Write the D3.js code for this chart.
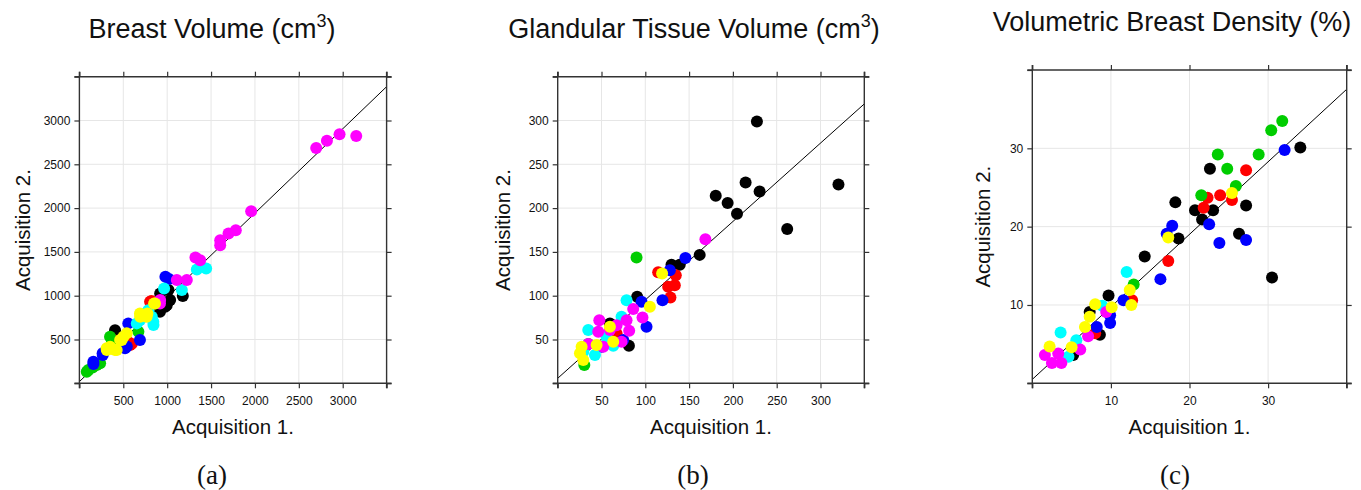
<!DOCTYPE html>
<html>
<head>
<meta charset="utf-8">
<script src="https://cdn.jsdelivr.net/npm/d3@7"></script>
<style>
  body { margin: 0; background: #fff; }
  svg { display: block; font-family: "Liberation Sans", Arial, Helvetica, sans-serif; }
</style>
</head>
<body>
<div id="chart"></div>
<script>
// groups 1..7 use the R base palette
const groupColors = ["#000000", "#FF0000", "#00CD00", "#0000FF", "#00FFFF", "#FF00FF", "#FFFF00"];

// (a) breast volume, [group, acquisition 1, acquisition 2]
const breastVolume = [
  [1, 406, 607], [1, 918, 816], [1, 995, 892], [1, 1034, 950], [1, 920, 1026], [1, 1015, 1064], [1, 1178, 996], [1, 977, 874],
  [2, 388, 494], [2, 577, 436], [2, 597, 450], [2, 805, 930], [2, 820, 940], [2, 560, 470],
  [3, 84, 133], [3, 102, 152], [3, 197, 209], [3, 236, 228], [3, 349, 531], [3, 369, 494], [3, 672, 588], [3, 150, 180],
  [4, 159, 247], [4, 160, 220], [4, 265, 342], [4, 266, 323], [4, 520, 399], [4, 557, 684], [4, 690, 493], [4, 980, 1216], [4, 1020, 1190], [4, 540, 420],
  [5, 1444, 1311], [5, 1338, 1300], [5, 1167, 1064], [5, 965, 1083], [5, 844, 665], [5, 825, 760], [5, 749, 798], [5, 692, 722], [5, 654, 684], [5, 842, 702], [5, 785, 835],
  [6, 3154, 2823], [6, 2964, 2842], [6, 2820, 2770], [6, 2698, 2687], [6, 1957, 1965], [6, 1782, 1748], [6, 1699, 1710], [6, 1604, 1634], [6, 1604, 1577],
  [6, 1322, 1436], [6, 1376, 1406], [6, 1110, 1178], [6, 1224, 1178], [6, 918, 911], [6, 920, 950],
  [7, 311, 399], [7, 312, 380], [7, 350, 418], [7, 407, 380], [7, 425, 380], [7, 464, 494], [7, 482, 494], [7, 502, 532], [7, 539, 570],
  [7, 690, 797], [7, 692, 760], [7, 766, 760], [7, 775, 798], [7, 851, 912], [7, 861, 911]
];

// (b) glandular tissue volume
const glandularVolume = [
  [1, 227.4, 298.8], [1, 320.5, 227], [1, 214.5, 229.3], [1, 230.5, 219], [1, 180.4, 214], [1, 194, 205.8], [1, 204.7, 193.6], [1, 262, 176.2],
  [1, 162.1, 146.6], [1, 129.9, 135.2], [1, 139.3, 135.2], [1, 90.7, 98.7], [1, 81.3, 42.9], [1, 59.6, 68.3],
  [2, 114.7, 126.8], [2, 134.8, 123.4], [2, 126.1, 110.1], [2, 133.7, 112], [2, 128.7, 98], [2, 67.2, 57],
  [3, 90, 143.5], [3, 30.4, 20.9], [3, 35, 45],
  [4, 145.8, 143.1], [4, 128, 129.1], [4, 119.6, 94.9], [4, 95.7, 93], [4, 101.4, 64.5], [4, 74.8, 49.4], [4, 50.1, 41.8],
  [5, 78.6, 94.9], [5, 72.9, 75.9], [5, 34.9, 60.8], [5, 63.4, 42.9], [5, 42.5, 32.3], [5, 55.8, 53.2], [5, 29.2, 36.1],
  [6, 168.6, 164.4], [6, 86.2, 84.7], [6, 96.8, 75.2], [6, 81.6, 60], [6, 47.5, 72.1], [6, 46.3, 58.9], [6, 34.9, 44.8],
  [6, 52, 41.8], [6, 72.9, 47.5], [6, 78.6, 72.1], [6, 59.6, 60.8], [6, 67.2, 66.4],
  [7, 119.2, 125.3], [7, 105.2, 87.3], [7, 27.3, 41.8], [7, 29.2, 26.6], [7, 44.4, 43.7], [7, 59.6, 64.5], [7, 63.4, 47.5], [7, 25.4, 34.2]
];

// (c) volumetric breast density
const breastDensity = [
  [1, 34.1, 30.1], [1, 22.6, 27.4], [1, 18.2, 23.1], [1, 20.7, 22.1], [1, 23.0, 22.1], [1, 21.6, 20.9], [1, 27.2, 22.7], [1, 26.3, 19.1],
  [1, 30.5, 13.5], [1, 18.6, 18.5], [1, 14.3, 16.2], [1, 9.7, 11.2], [1, 7.3, 9.1], [1, 8.6, 6.2], [1, 5.2, 3.6],
  [2, 27.2, 27.2], [2, 23.9, 24.0], [2, 22.3, 23.7], [2, 21.8, 22.4], [2, 25.4, 23.4], [2, 17.3, 15.6], [2, 12.7, 10.6], [2, 8.0, 6.4],
  [3, 31.8, 33.5], [3, 30.4, 32.3], [3, 28.8, 29.2], [3, 23.6, 29.2], [3, 24.8, 27.4], [3, 25.9, 25.2], [3, 21.5, 24.0], [3, 12.9, 12.6],
  [4, 32.1, 29.8], [4, 22.5, 20.3], [4, 23.8, 17.9], [4, 27.2, 18.3], [4, 17.8, 20.1], [4, 17.1, 19.1], [4, 16.3, 13.3],
  [4, 11.6, 10.6], [4, 9.9, 8.7], [4, 9.9, 7.7], [4, 8.2, 7.2],
  [5, 12.0, 14.2], [5, 3.6, 6.5], [5, 8.9, 9.9], [5, 4.6, 3.4], [5, 5.6, 5.5],
  [6, 1.6, 3.6], [6, 2.5, 2.6], [6, 3.7, 2.6], [6, 3.3, 3.8], [6, 6.1, 4.3], [6, 7.1, 6.0], [6, 9.4, 9.1],
  [7, 25.4, 24.3], [7, 17.3, 18.6], [7, 12.4, 11.9], [7, 12.6, 10.0], [7, 10.1, 9.7], [7, 8.0, 10.1], [7, 7.3, 8.5],
  [7, 6.7, 7.2], [7, 5.0, 4.6], [7, 2.2, 4.7]
];

// tick marks (all) and labelled ticks
const volumeTicks = [0, 500, 1000, 1500, 2000, 2500, 3000, 3500];
const volumeLabels = [500, 1000, 1500, 2000, 2500, 3000];
const glandularTicks = [0, 50, 100, 150, 200, 250, 300, 350];
const glandularLabels = [50, 100, 150, 200, 250, 300];
const densityTicks = [0, 10, 20, 30, 40];
const densityLabels = [10, 20, 30];

// fitted lines: [intercept, slope]
const volumeFit = [19, 0.962];
const glandularFit = [5.7, 0.895];
const densityFit = [0.5, 0.926];

const panels = [
  { title: "Breast Volume (cm", sup: "3", close: ")", letter: "(a)", data: breastVolume,
    domain: [0, 3500], ticks: volumeTicks, labels: volumeLabels, fit: volumeFit,
    left: 79.4, right: 386.6, top: 76.7, bottom: 383.3, titleX: 212, titleY: 38, letterX: 212, yLabelX: 30 },
  { title: "Glandular Tissue Volume (cm", sup: "3", close: ")", letter: "(b)", data: glandularVolume,
    domain: [0, 350], ticks: glandularTicks, labels: glandularLabels, fit: glandularFit,
    left: 557.7, right: 864.3, top: 76.7, bottom: 383.3, titleX: 694, titleY: 38, letterX: 693, yLabelX: 510 },
  { title: "Volumetric Breast Density (%)", sup: null, close: "", letter: "(c)", data: breastDensity,
    domain: [0, 40], ticks: densityTicks, labels: densityLabels, fit: densityFit,
    left: 1032.3, right: 1346.7, top: 70, bottom: 383.3, titleX: 1172, titleY: 31, letterX: 1175, yLabelX: 990 }
];

const width = 1361, height = 490;
const color = d3.scaleOrdinal().domain([1, 2, 3, 4, 5, 6, 7]).range(groupColors);

const svg = d3.select("#chart").append("svg")
  .attr("width", width)
  .attr("height", height);

panels.forEach((p, i) => {
  const x = d3.scaleLinear().domain(p.domain).range([p.left, p.right]);
  const y = d3.scaleLinear().domain(p.domain).range([p.bottom, p.top]);
  const g = svg.append("g");

  g.append("clipPath").attr("id", "clip" + i)
    .append("rect")
    .attr("x", p.left).attr("y", p.top)
    .attr("width", p.right - p.left).attr("height", p.bottom - p.top);

  // light grid
  g.selectAll(".vgrid").data(p.labels).join("line")
    .attr("x1", d => x(d)).attr("x2", d => x(d))
    .attr("y1", p.top).attr("y2", p.bottom)
    .attr("stroke", "#e6e6e6").attr("stroke-width", 1);
  g.selectAll(".hgrid").data(p.labels).join("line")
    .attr("y1", d => y(d)).attr("y2", d => y(d))
    .attr("x1", p.left).attr("x2", p.right)
    .attr("stroke", "#e6e6e6").attr("stroke-width", 1);

  // fitted line
  const [x0, x1] = p.domain;
  g.append("line")
    .attr("clip-path", `url(#clip${i})`)
    .attr("x1", x(x0)).attr("y1", y(p.fit[0] + p.fit[1] * x0))
    .attr("x2", x(x1)).attr("y2", y(p.fit[0] + p.fit[1] * x1))
    .attr("stroke", "#000").attr("stroke-width", 1);

  // points
  g.selectAll("circle").data(p.data).join("circle")
    .attr("cx", d => x(d[1]))
    .attr("cy", d => y(d[2]))
    .attr("r", 6)
    .attr("fill", d => color(d[0]));

  // axes (ticks on all four sides)
  const fmt = d => (p.labels.includes(d) ? d : "");
  const styleAxis = sel => {
    sel.select(".domain").remove();
    sel.selectAll(".tick line").attr("stroke", "#333").attr("stroke-width", 1.2);
    sel.selectAll(".tick text").attr("fill", "#111").attr("font-size", "12px")
      .attr("font-family", '"Liberation Sans", Arial, sans-serif');
  };
  g.append("g").attr("transform", `translate(0,${p.bottom})`)
    .call(d3.axisBottom(x).tickValues(p.ticks).tickSize(5).tickPadding(8).tickFormat(fmt))
    .call(styleAxis);
  g.append("g").attr("transform", `translate(0,${p.top})`)
    .call(d3.axisTop(x).tickValues(p.ticks).tickSize(5).tickFormat(""))
    .call(styleAxis);
  g.append("g").attr("transform", `translate(${p.left},0)`)
    .call(d3.axisLeft(y).tickValues(p.ticks).tickSize(5).tickPadding(4).tickFormat(fmt))
    .call(styleAxis);
  g.append("g").attr("transform", `translate(${p.right},0)`)
    .call(d3.axisRight(y).tickValues(p.ticks).tickSize(5).tickFormat(""))
    .call(styleAxis);

  // box with slightly overshooting edges
  const ext = 5;
  const box = [
    [p.left - ext, p.top, p.right + ext, p.top],
    [p.left - ext, p.bottom, p.right + ext, p.bottom],
    [p.left, p.top - ext, p.left, p.bottom + ext],
    [p.right, p.top - ext, p.right, p.bottom + ext]
  ];
  g.selectAll(".box").data(box).join("line")
    .attr("x1", d => d[0]).attr("y1", d => d[1])
    .attr("x2", d => d[2]).attr("y2", d => d[3])
    .attr("stroke", "#333").attr("stroke-width", 1.4);

  // axis titles
  g.append("text")
    .attr("x", (p.left + p.right) / 2).attr("y", 434)
    .attr("text-anchor", "middle").attr("font-size", "20.5px").attr("fill", "#111")
    .text("Acquisition 1.");
  g.append("text")
    .attr("transform", `translate(${p.yLabelX},${(p.top + p.bottom) / 2}) rotate(-90)`)
    .attr("text-anchor", "middle").attr("font-size", "20.5px").attr("fill", "#111")
    .text("Acquisition 2.");

  // panel title
  const t = g.append("text")
    .attr("x", p.titleX).attr("y", p.titleY)
    .attr("text-anchor", "middle").attr("font-size", "27px").attr("fill", "#111");
  t.append("tspan").text(p.title);
  if (p.sup) {
    t.append("tspan").attr("dy", -11).attr("font-size", "18px").text(p.sup);
    t.append("tspan").attr("dy", 11).text(p.close);
  }

  // panel letter
  g.append("text")
    .attr("x", p.letterX).attr("y", 484)
    .attr("text-anchor", "middle")
    .attr("font-family", '"Liberation Serif", "Times New Roman", serif')
    .attr("font-size", "27px").attr("fill", "#111")
    .text(p.letter);
});
</script>
</body>
</html>
